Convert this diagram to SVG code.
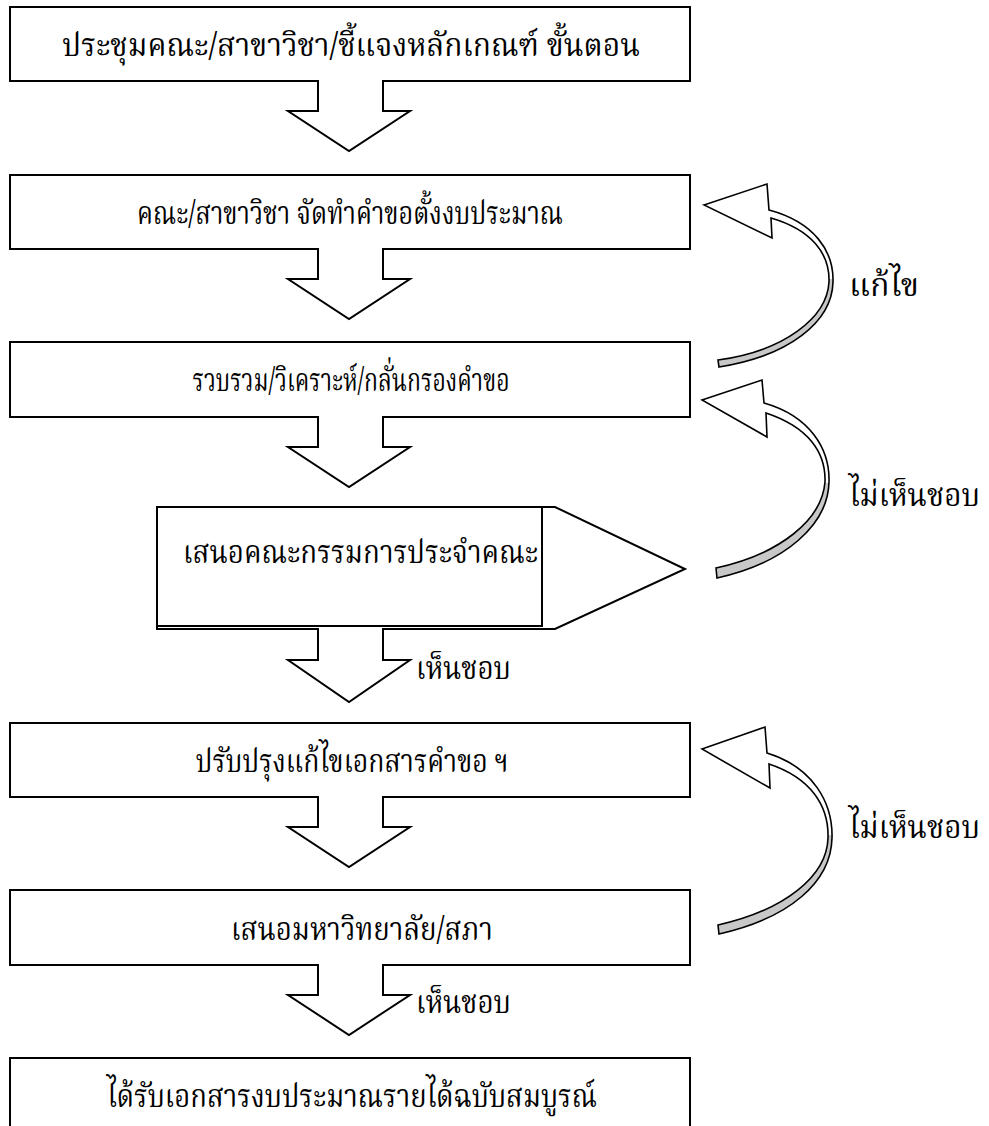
<svg xmlns="http://www.w3.org/2000/svg" width="989" height="1126" viewBox="0 0 989 1126">
<defs>
<style>
.box{fill:#fff;stroke:#000;stroke-width:2}
.blk{fill:#fff;stroke:#000;stroke-width:2;stroke-linejoin:miter}
.crv{fill:url(#rib);stroke:#000;stroke-width:1.6;stroke-linejoin:miter}
.t{font-family:'Noto Serif Thai','Noto Sans Thai','Liberation Serif',serif;font-size:32px;fill:#000}
.m{text-anchor:middle}
</style>
<linearGradient id="rib" x1="0" y1="0" x2="0" y2="1">
<stop offset="0" stop-color="#fff"/>
<stop offset="0.52" stop-color="#fff"/>
<stop offset="0.52" stop-color="#c8c8c8"/>
<stop offset="1" stop-color="#c8c8c8"/>
</linearGradient>
</defs>
<rect width="989" height="1126" fill="#fff"/>

<g id="n1"><rect class="box" x="10" y="7" width="680" height="74"/>
<text class="t m" x="351" y="56" textLength="578" lengthAdjust="spacingAndGlyphs">ประชุมคณะ/สาขาวิชา/ชี้แจงหลักเกณฑ์ ขั้นตอน</text></g>
<g id="n2"><rect class="box" x="10" y="175" width="680" height="74"/>
<text class="t m" x="350" y="224" textLength="426" lengthAdjust="spacingAndGlyphs">คณะ/สาขาวิชา จัดทำคำขอตั้งงบประมาณ</text></g>
<g id="n3"><rect class="box" x="10" y="342" width="680" height="75"/>
<text class="t m" x="351" y="391" textLength="317" lengthAdjust="spacingAndGlyphs">รวบรวม/วิเคราะห์/กลั่นกรองคำขอ</text></g>
<g id="n4"><path class="box" d="M157,507 L555,507 L685,569 L555,629 L157,629 Z"/>
<rect class="box" x="157" y="507" width="385" height="119"/>
<text class="t" x="183" y="563" textLength="355" lengthAdjust="spacingAndGlyphs">เสนอคณะกรรมการประจำคณะ</text></g>
<g id="n5"><rect class="box" x="10" y="723" width="680" height="74"/>
<text class="t m" x="352" y="772" textLength="313" lengthAdjust="spacingAndGlyphs">ปรับปรุงแก้ไขเอกสารคำขอ ฯ</text></g>
<g id="n6"><rect class="box" x="10" y="890" width="680" height="75"/>
<text class="t m" x="362" y="940" textLength="262" lengthAdjust="spacingAndGlyphs">เสนอมหาวิทยาลัย/สภา</text></g>
<g id="n7"><rect class="box" x="10" y="1058" width="680" height="90"/>
<text class="t m" x="352" y="1107" textLength="490" lengthAdjust="spacingAndGlyphs">ได้รับเอกสารงบประมาณรายได้ฉบับสมบูรณ์</text></g>

<g id="connectors">
<path class="blk" d="M318,80 L318,111 L288,111 L349,151 L410,111 L383,111 L383,80"/>
<path class="blk" d="M318,248 L318,279 L288,279 L349,319 L410,279 L383,279 L383,248"/>
<path class="blk" d="M318,416 L318,447 L288,447 L349,487 L410,447 L383,447 L383,416"/>
<path class="blk" d="M318,628 L318,660 L288,660 L349,702 L410,660 L383,660 L383,628"/>
<path class="blk" d="M318,796 L318,827 L288,827 L349,867 L410,827 L383,827 L383,796"/>
<path class="blk" d="M318,964 L318,995 L288,995 L349,1035 L410,995 L383,995 L383,964"/>
<path class="crv" d="M704,205 L767,184 L769,210 C814,222 834,251 833,282 C832,322 789,356 719,367 L718,360 C784,351 827,318 829,282 C830,254 812,230 771,218 L772,238 Z"/>
<path class="crv" d="M702,400 L762,380 L764,403 C810,416 830,449 829,482 C828,525 785,563 717,578 L716,568 C780,554 822,520 825,482 C826,452 808,427 766,413 L767,437 Z"/>
<path class="crv" d="M702,749 L765,727 L767,753 C813,767 833,803 832,838 C831,882 790,918 719,934 L718,925 C785,910 827,876 828,838 C829,806 811,778 769,764 L770,788 Z"/>
<text class="t" x="849" y="296" textLength="70" lengthAdjust="spacingAndGlyphs">แก้ไข</text>
<text class="t" x="849" y="506" textLength="131" lengthAdjust="spacingAndGlyphs">ไม่เห็นชอบ</text>
<text class="t" x="849" y="838" textLength="131" lengthAdjust="spacingAndGlyphs">ไม่เห็นชอบ</text>
<text class="t" x="416" y="679" textLength="95" lengthAdjust="spacingAndGlyphs">เห็นชอบ</text>
<text class="t" x="416" y="1013" textLength="95" lengthAdjust="spacingAndGlyphs">เห็นชอบ</text>
</g>
</svg>
